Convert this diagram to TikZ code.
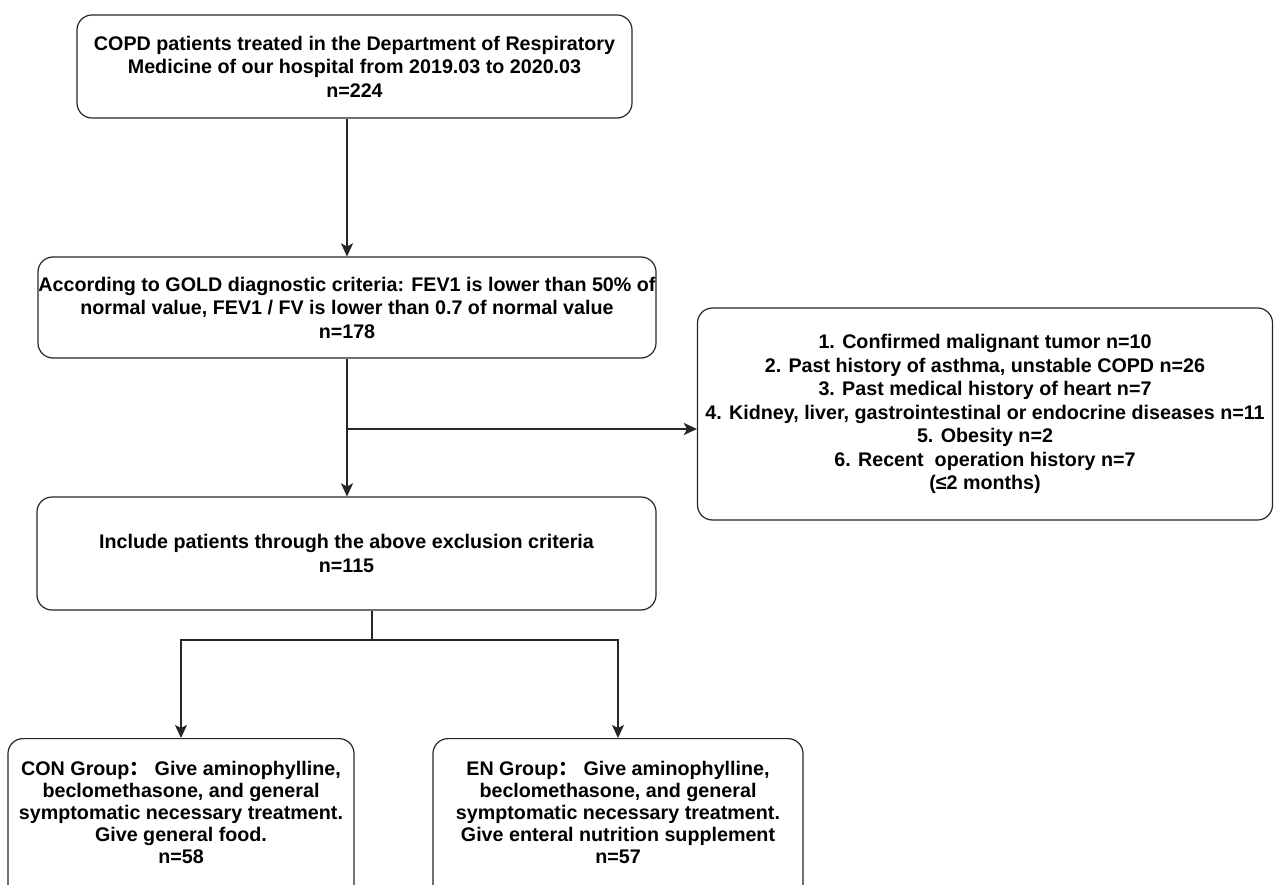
\documentclass[tikz,border=0pt]{standalone}
\usepackage{fontspec}
\setmainfont{Liberation Sans}
\newfontfamily\cjk{Noto Sans CJK SC}
\usetikzlibrary{arrows.meta}
\begin{document}
\begin{tikzpicture}[x=1pt,y=-1pt,
  box/.style={draw=black!85, line width=1.2pt, rounded corners=15pt, inner sep=0pt},
  txt/.style={align=center, font=\fontsize{19.7}{23.5}\selectfont\bfseries, inner sep=0pt},
  arr/.style={draw=black!85, line width=1.3pt, -{Stealth[length=13pt,width=12pt,inset=3pt]}},
  ln/.style={draw=black!85, line width=1.3pt}]
\clip (0,0) rectangle (1276,885);
\fill[white] (0,0) rectangle (1276,885);

\node[box, txt, minimum width=555pt, minimum height=103pt] (top) at (354.5,66.5)
 {COPD patients treated in the Department of Respiratory\\Medicine of our hospital from 2019.03 to 2020.03\\n=224};
\node[box, txt, minimum width=618pt, minimum height=101pt] (gold) at (347,307.5)
 {According to GOLD diagnostic criteria: FEV1 is lower than 50\% of\\normal value, FEV1 / FV is lower than 0.7 of normal value\\n=178};
\node[box, txt, minimum width=575pt, minimum height=212pt] (excl) at (985,414)
 {1. Confirmed malignant tumor n=10\\2. Past history of asthma, unstable COPD n=26\\3. Past medical history of heart n=7\\4. Kidney, liver, gastrointestinal or endocrine diseases n=11\\5. Obesity n=2\\6. Recent\ \ operation history n=7\\(≤2 months)};
\node[box, txt, minimum width=619pt, minimum height=113pt] (inc) at (346.5,553.5)
 {Include patients through the above exclusion criteria\\n=115};

\node[box, minimum width=346pt, minimum height=170pt, anchor=north] (con) at (181,738) {};
\node[txt, font=\fontsize{19.7}{22}\selectfont\bfseries] (contxt) at (181,812)
 {CON Group{\cjk ：}\ Give aminophylline,\\beclomethasone, and general\\symptomatic necessary treatment.\\Give general food.\\n=58};
\node[box, minimum width=370pt, minimum height=170pt, anchor=north] (en) at (618,738) {};
\node[txt, font=\fontsize{19.7}{22}\selectfont\bfseries] (entxt) at (618,812)
 {EN Group{\cjk ：}\ Give aminophylline,\\beclomethasone, and general\\symptomatic necessary treatment.\\Give enteral nutrition supplement\\n=57};

\coordinate (c1) at (347,0);
\coordinate (br) at (347,429);
\coordinate (sp) at (372,640);
\draw[arr] (top.south -| c1) -- (gold.north -| c1);
\draw[arr] (gold.south -| c1) -- (inc.north -| c1);
\draw[arr] (br) -- (br -| excl.west);
\draw[ln] (inc.south -| sp) -- (sp);
\draw[arr] (sp) -| (con.north);
\draw[arr] (sp) -| (en.north);
\end{tikzpicture}
\end{document}
